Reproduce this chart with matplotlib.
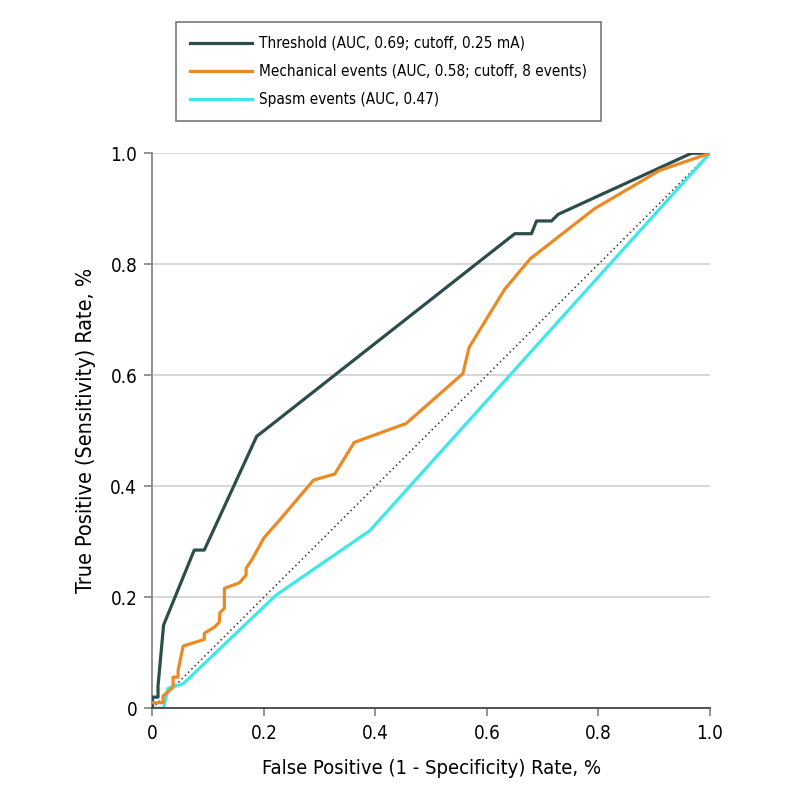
import matplotlib
matplotlib.use("Agg")
import matplotlib.pyplot as plt

# ROC curves
thr_fpr = [0.0, 0.0, 0.01, 0.01, 0.02, 0.075, 0.093, 0.187, 0.2, 0.65, 0.68, 0.689, 0.716, 0.728, 0.967, 1.0]
thr_tpr = [0.0, 0.02, 0.02, 0.04, 0.15, 0.285, 0.285, 0.49, 0.5, 0.855, 0.855, 0.878, 0.878, 0.89, 1.0, 1.0]

mech_fpr = [0.0, 0.019, 0.019, 0.037, 0.037, 0.046, 0.046, 0.055, 0.093, 0.093, 0.111, 0.12, 0.121,
            0.129, 0.129, 0.156, 0.168, 0.168, 0.178, 0.2, 0.228, 0.289, 0.327, 0.362, 0.455,
            0.557, 0.568, 0.632, 0.678, 0.793, 0.91, 1.0]
mech_tpr = [0.01, 0.01, 0.022, 0.038, 0.056, 0.056, 0.068, 0.112, 0.124, 0.135, 0.146, 0.155, 0.172,
            0.18, 0.216, 0.226, 0.24, 0.252, 0.267, 0.307, 0.339, 0.411, 0.422, 0.479, 0.513,
            0.603, 0.65, 0.755, 0.81, 0.9, 0.969, 1.0]

spasm_fpr = [0.0, 0.02, 0.028, 0.055, 0.222, 0.39, 1.0]
spasm_tpr = [0.0, 0.0, 0.036, 0.044, 0.204, 0.32, 1.0]

labels = ["Threshold (AUC, 0.69; cutoff, 0.25 mA)",
          "Mechanical events (AUC, 0.58; cutoff, 8 events)",
          "Spasm events (AUC, 0.47)"]
colors = ["#2c4d4c", "#eb8a22", "#3ee8e8"]

ticks = [0, 0.2, 0.4, 0.6, 0.8, 1.0]
tick_labels = ["0", "0.2", "0.4", "0.6", "0.8", "1.0"]

plt.rcParams["font.family"] = ["DejaVu Sans"]
plt.rcParams["font.stretch"] = "condensed"

fig = plt.figure(figsize=(7.94, 7.94), dpi=100)
ax = fig.add_axes([0.192, 0.108, 0.702, 0.699])

for yv in ticks[1:]:
    ax.axhline(yv, color="#d4d4d4", lw=1.3, zorder=0)

ax.plot([0, 1], [0, 1], color="#333333", lw=1.1, ls=(0, (1, 2)), zorder=1)
l1, = ax.plot(thr_fpr, thr_tpr, color=colors[0], lw=2.3, zorder=3)
l2, = ax.plot(mech_fpr, mech_tpr, color=colors[1], lw=2.3, zorder=3)
l3, = ax.plot(spasm_fpr, spasm_tpr, color=colors[2], lw=2.3, zorder=2)

ax.set_xlim(0, 1.0)
ax.set_ylim(0, 1.0)
ax.set_xticks(ticks)
ax.set_xticklabels(tick_labels)
ax.set_yticks(ticks)
ax.set_yticklabels(tick_labels)
ax.tick_params(labelsize=13.5, color="#777777", length=6, width=1.1, pad=5)
for s in ["top", "right"]:
    ax.spines[s].set_visible(False)
ax.spines["left"].set_color("#888888")
ax.spines["bottom"].set_color("#444444")
ax.spines["left"].set_linewidth(1.3)
ax.spines["bottom"].set_linewidth(1.3)

ax.set_xlabel("False Positive (1 - Specificity) Rate, %", fontsize=14.5, labelpad=12)
ax.set_ylabel("True Positive (Sensitivity) Rate, %", fontsize=15.5, labelpad=10)

leg = fig.legend([l1, l2, l3], labels, loc="upper left", bbox_to_anchor=(0.2217, 0.972),
                 fontsize=11, frameon=True, fancybox=False, edgecolor="#555555",
                 handlelength=4.05, borderpad=0.9, labelspacing=0.85, handletextpad=0.5,
                 borderaxespad=0)
leg.get_frame().set_linewidth(1.2)

fig.savefig("out.png", dpi=100)
